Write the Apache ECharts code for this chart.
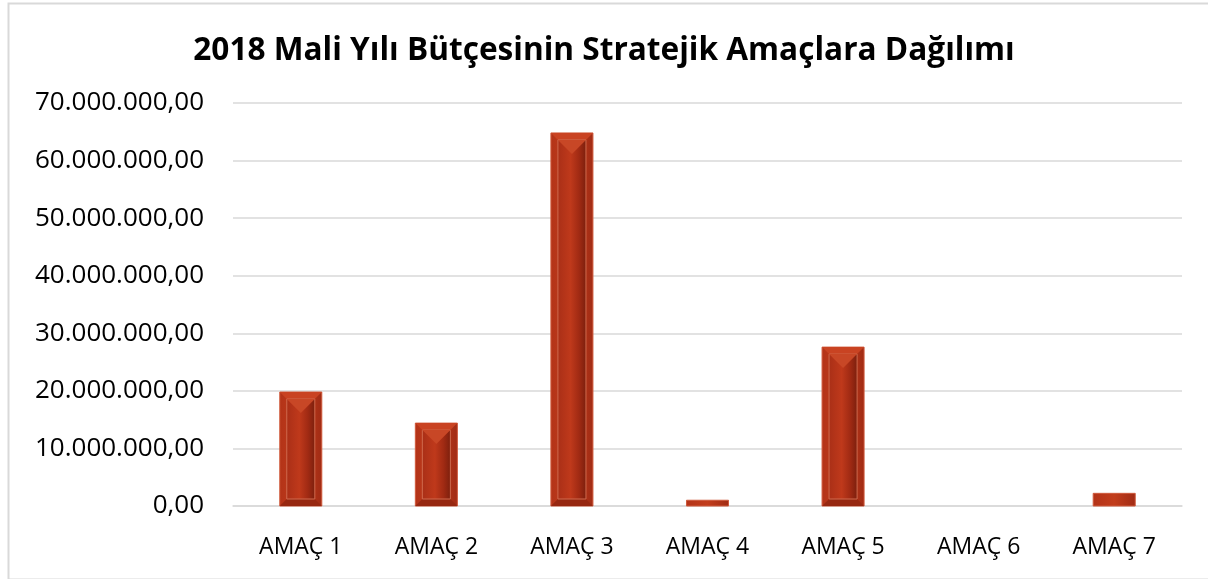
<!DOCTYPE html>
<html>
<head>
<meta charset="utf-8">
<script src="https://cdn.jsdelivr.net/npm/echarts@6/dist/echarts.min.js"></script>
<style>
  html, body { margin: 0; padding: 0; background: #fff; }
  #chart { width: 1208px; height: 579px; }
</style>
</head>
<body>
<div id="chart"></div>
<script>
  var categories = ['AMAÇ 1', 'AMAÇ 2', 'AMAÇ 3', 'AMAÇ 4', 'AMAÇ 5', 'AMAÇ 6', 'AMAÇ 7']
  var values = [19800000, 14400000, 64800000, 1000000, 27600000, 0, 2200000]
  var chartTitle = '2018 Mali Yılı Bütçesinin Stratejik Amaçlara Dağılımı'

  function trFormat (v) {
    var s = Math.round(v).toString().replace(/\B(?=(\d{3})+(?!\d))/g, '.')
    return s + ',00'
  }

  // bevelled bar like the office chart style
  function renderBar (params, api) {
    var base = api.coord([api.value(0), 0])
    var top = api.coord([api.value(0), api.value(1)])
    var w = api.size([1, 0])[0] * 0.31
    var x = base[0] - w / 2
    var h = base[1] - top[1]
    if (h <= 0.5) return null
    var children = [{
      type: 'rect',
      shape: { x: x, y: top[1], width: w, height: h },
      style: {
        fill: new echarts.graphic.LinearGradient(0, 0, 1, 0, [
          { offset: 0, color: '#b33318' },
          { offset: 0.5, color: '#c23d1c' },
          { offset: 1, color: '#a02b14' }
        ]),
        stroke: '#cf5a3c',
        lineWidth: 1
      }
    }]
    var b = 7
    if (h > 2 * b + 6) {
      var ix = x + b, iy = top[1] + b, iw = w - 2 * b, ih = h - 2 * b
      // top bevel
      children.push({
        type: 'polygon',
        shape: { points: [[x, top[1]], [x + w, top[1]], [ix + iw, iy], [ix, iy]] },
        style: { fill: '#c94322' }
      })
      // bottom bevel
      children.push({
        type: 'polygon',
        shape: { points: [[x, base[1]], [x + w, base[1]], [ix + iw, iy + ih], [ix, iy + ih]] },
        style: { fill: '#972811' }
      })
      children.push({
        type: 'rect',
        shape: { x: ix, y: iy, width: iw, height: ih },
        style: {
          fill: new echarts.graphic.LinearGradient(0, 0, 1, 0, [
            { offset: 0, color: '#a92f17' },
            { offset: 0.45, color: '#bf391b' },
            { offset: 0.75, color: '#a02a13' },
            { offset: 1, color: '#7a1f0d' }
          ]),
          stroke: '#cf6a4e',
          lineWidth: 1
        }
      })
      // inner top arrow
      children.push({
        type: 'polygon',
        shape: { points: [[ix, iy], [ix + iw, iy], [ix + iw / 2, iy + iw / 2]] },
        style: { fill: '#c84726' }
      })
    }
    return { type: 'group', children: children }
  }

  var chart = echarts.init(document.getElementById('chart'))
  chart.setOption({
    animation: false,
    title: {
      text: chartTitle,
      left: 'center',
      top: 30,
      textStyle: { fontFamily: 'Open Sans', fontWeight: 'bold', fontSize: 31.6, color: '#000' }
    },
    graphic: [{
      type: 'rect',
      left: 6,
      top: 1,
      shape: { width: 1204, height: 576 },
      style: { fill: 'none', stroke: '#d9d9d9', lineWidth: 2 }
    }],
    grid: { left: 233, right: 26, top: 103, bottom: 73 },
    xAxis: {
      type: 'category',
      data: categories,
      axisLine: { lineStyle: { color: '#d9d9d9', width: 1.5 } },
      axisTick: { show: false },
      axisLabel: { color: '#000', fontFamily: 'Open Sans', fontSize: 23, margin: 30 }
    },
    yAxis: {
      type: 'value',
      min: 0,
      max: 70000000,
      interval: 10000000,
      axisLine: { show: false },
      axisTick: { show: false },
      splitLine: { lineStyle: { color: '#d9d9d9', width: 1.5 } },
      axisLabel: { color: '#000', fontFamily: 'Open Sans', fontSize: 26, margin: 29, formatter: trFormat }
    },
    series: [{
      type: 'custom',
      renderItem: renderBar,
      encode: { x: 0, y: 1 },
      data: values.map(function (v, i) { return [i, v] })
    }]
  })
</script>
</body>
</html>
